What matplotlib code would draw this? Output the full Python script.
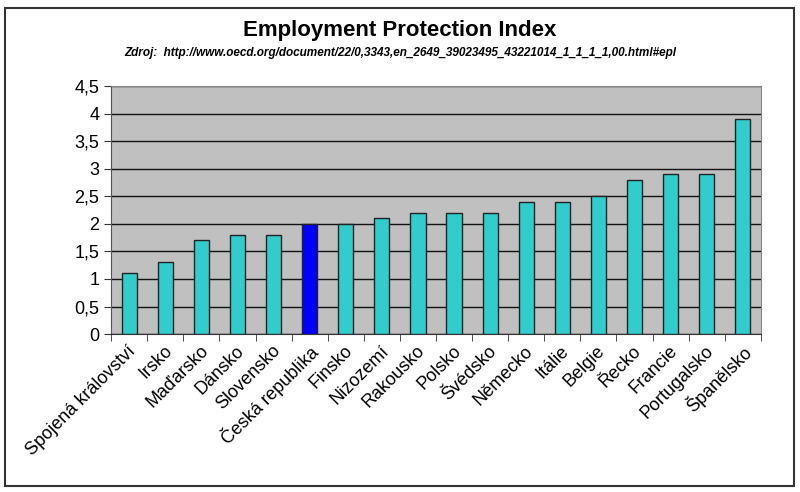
import matplotlib.pyplot as plt
import matplotlib.patches as patches
import numpy as np

countries = ['Spojená království', 'Irsko', 'Maďarsko', 'Dánsko', 'Slovensko',
             'Česká republika', 'Finsko', 'Nizozemí', 'Rakousko', 'Polsko',
             'Švédsko', 'Německo', 'Itálie', 'Belgie', 'Řecko', 'Francie',
             'Portugalsko', 'Španělsko']
values = [1.1, 1.3, 1.7, 1.8, 1.8, 2.0, 2.0, 2.1, 2.2, 2.2,
          2.2, 2.4, 2.4, 2.5, 2.8, 2.9, 2.9, 3.9]
highlight = 'Česká republika'
yticks = [0, 0.5, 1, 1.5, 2, 2.5, 3, 3.5, 4, 4.5]

plt.rcParams['font.family'] = ['Liberation Sans', 'DejaVu Sans']

fig = plt.figure(figsize=(8, 4.92), dpi=100)
ax = fig.add_axes([0.139, 0.321, 0.812, 0.504])
ax.set_facecolor('#C0C0C0')

x = np.arange(len(countries))
colors = ['#0000FF' if c == highlight else '#33CCCC' for c in countries]
ax.bar(x, values, width=0.42, color=colors, edgecolor='#222222', linewidth=1, zorder=3)

ax.set_ylim(0, 4.5)
ax.set_xlim(-0.5, len(countries) - 0.5)
ax.set_yticks(yticks)
ax.set_yticklabels([('%g' % t).replace('.', ',') for t in yticks], fontsize=13)
ax.yaxis.grid(True, color='#111111', linewidth=1, zorder=1)
ax.set_axisbelow(True)

# labels hang from just left of each bar centre
ax.set_xticks(x - 0.05)
ax.set_xticklabels(countries, rotation=45, ha='right', rotation_mode='anchor', fontsize=13)
ax.tick_params(axis='x', which='major', length=0, pad=6)
ax.set_xticks(np.arange(-0.5, len(countries)), minor=True)
ax.tick_params(axis='x', which='minor', length=5, color='#333333')
ax.tick_params(axis='y', length=5, color='#333333')

for s in ['top', 'right']:
    ax.spines[s].set_color('#888888')
ax.spines['left'].set_color('#555555')
ax.spines['bottom'].set_color('#333333')

fig.text(0.5, 0.937, 'Employment Protection Index', ha='center', va='center',
         fontsize=16, fontweight='bold')
fig.text(0.5, 0.893, 'Zdroj:  http://www.oecd.org/document/22/0,3343,en_2649_39023495_43221014_1_1_1_1,00.html#epl',
         ha='center', va='center', fontsize=8.5, fontweight='bold', style='italic')

fig.patches.append(patches.Rectangle((0.006, 0.012), 0.986, 0.972, transform=fig.transFigure,
                                     fill=False, edgecolor='#333333', linewidth=1.5))

fig.savefig('out.png', dpi=100)
